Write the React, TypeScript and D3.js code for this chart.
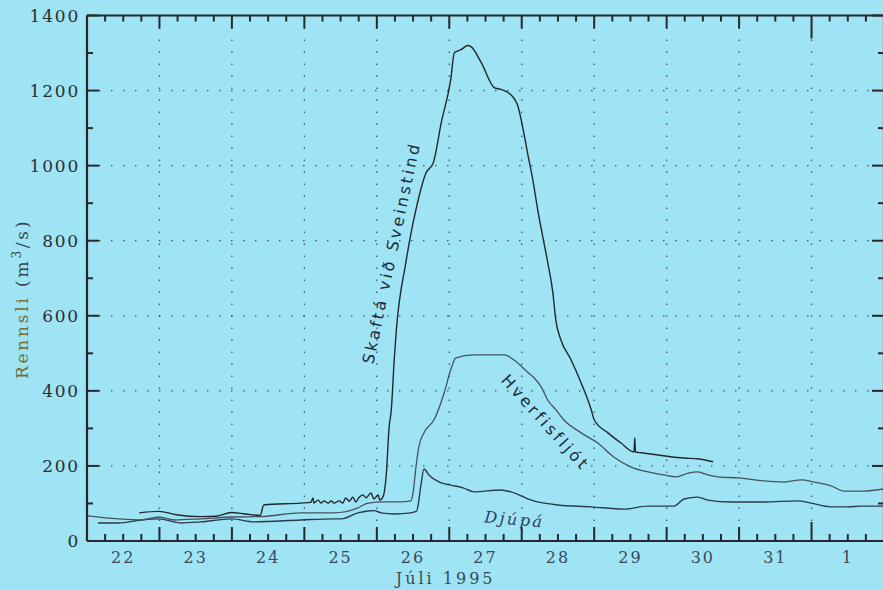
import { useEffect, useRef } from "react";
import * as d3 from "d3";

// time is given as day of July (32 = 1 Aug), discharge in m3/s
const skafta: [number, number][] = [
  [22.72, 75], [22.99, 79], [23.23, 70], [23.57, 65], [23.78, 66], [23.99, 76], [24.19, 72], [24.39, 68],
  [24.44, 96], [24.95, 101], [25.09, 103], [25.12, 115], [25.13, 101], [25.19, 109], [25.23, 101],
  [25.27, 107], [25.33, 101], [25.37, 107], [25.41, 101], [25.48, 107], [25.53, 101], [25.57, 115],
  [25.62, 106], [25.67, 117], [25.71, 104], [25.75, 115], [25.81, 123], [25.85, 115], [25.92, 128],
  [25.96, 112], [26.02, 123], [26.04, 109], [26.09, 120], [26.13, 175], [26.17, 304], [26.2, 349],
  [26.24, 483], [26.27, 563], [26.4, 741], [26.54, 883], [26.68, 981], [26.78, 1008], [26.89, 1115],
  [27.02, 1229], [27.07, 1301], [27.16, 1309], [27.26, 1320], [27.3, 1317], [27.44, 1275], [27.62, 1208],
  [27.71, 1203], [27.85, 1189], [27.95, 1157], [28.02, 1096], [28.09, 1024], [28.16, 955], [28.22, 883],
  [28.29, 811], [28.36, 741], [28.43, 661], [28.47, 589], [28.54, 536], [28.68, 483], [28.82, 421],
  [28.96, 349], [29.0, 323], [29.19, 288], [29.37, 261], [29.55, 237], [29.56, 275], [29.57, 237],
  [29.65, 235], [29.96, 227], [30.24, 221], [30.43, 219], [30.64, 211],
];

const hverfisfljot: [number, number][] = [
  [22.01, 67], [22.43, 59], [22.75, 56], [22.99, 64], [23.2, 56], [23.57, 59], [23.99, 64], [24.4, 65],
  [24.95, 75], [25.41, 75], [25.74, 88], [25.88, 101], [26.1, 104], [26.33, 104], [26.47, 107],
  [26.5, 128], [26.54, 197], [26.58, 251], [26.65, 288], [26.79, 323], [26.93, 395], [27.02, 456],
  [27.09, 488], [27.34, 496], [27.76, 496], [27.89, 483], [28.09, 448], [28.17, 435], [28.27, 410],
  [28.36, 375], [28.47, 350], [28.58, 323], [28.82, 288], [29.05, 261], [29.27, 224], [29.51, 197],
  [29.74, 184], [29.96, 176], [30.13, 171], [30.3, 181], [30.43, 184], [30.57, 176], [30.71, 171],
  [30.99, 168], [31.34, 160], [31.62, 157], [31.86, 163], [32.03, 157], [32.27, 147], [32.45, 133],
  [32.72, 133], [33.0, 139],
];

const djupa: [number, number][] = [
  [22.15, 48], [22.43, 48], [22.75, 56], [22.99, 59], [23.3, 48], [23.57, 51], [23.99, 59], [24.31, 51],
  [24.95, 56], [25.41, 59], [25.51, 59], [25.74, 75], [25.88, 80], [25.96, 81], [26.06, 75], [26.24, 72],
  [26.47, 75], [26.55, 80], [26.61, 150], [26.65, 192], [26.72, 176], [26.89, 155], [27.02, 149],
  [27.2, 141], [27.34, 131], [27.71, 136], [27.85, 131], [28.13, 109], [28.5, 96], [28.96, 91],
  [29.41, 85], [29.74, 93], [30.1, 93], [30.24, 112], [30.43, 117], [30.57, 109], [30.89, 104],
  [31.34, 104], [31.81, 107], [31.99, 101], [32.27, 91], [32.5, 91], [32.68, 93], [33.0, 93],
];

const dayStarts = d3.range(22, 33); // midnight of each labelled day
const dayLabels = ["22", "23", "24", "25", "26", "27", "28", "29", "30", "31", "1"];
const yTicks = [0, 200, 400, 600, 800, 1000, 1200, 1400];
const yGrid = [200, 400, 600, 800, 1000, 1200];
const monthStart = 32;

const W = 883;
const H = 590;
const margin = { top: 15.5, right: -1, bottom: 49, left: 87 };
const BG = "#9fe4f4";
const AXIS = "#26282b";

export default function App() {
  const svgRef = useRef<SVGSVGElement>(null);

  useEffect(() => {
    const svg = d3.select(svgRef.current);
    svg.selectAll("*").remove();

    const x = d3.scaleLinear().domain([22, 33]).range([margin.left, W - margin.right]);
    const y = d3.scaleLinear().domain([0, 1400]).range([H - margin.bottom, margin.top]);
    const [x0, x1] = x.range();
    const [yb, yt] = y.range();

    // dotted grid
    const grid = svg.append("g").attr("stroke", "#44526a").attr("stroke-width", 1.3)
      .attr("stroke-dasharray", "1.5 10.5");
    yGrid.forEach((v) => {
      grid.append("line").attr("x1", x0).attr("x2", x1).attr("y1", y(v)).attr("y2", y(v));
    });
    dayStarts.slice(1).forEach((d) => {
      grid.append("line").attr("x1", x(d)).attr("x2", x(d)).attr("y1", yt).attr("y2", yb);
    });

    // series
    const lineFn = d3.line<[number, number]>()
      .x((d) => x(d[0]))
      .y((d) => y(d[1]))
      .curve(d3.curveMonotoneX);

    const series: { data: [number, number][]; color: string; width: number }[] = [
      { data: djupa, color: "#2b3a4c", width: 1.4 },
      { data: hverfisfljot, color: "#46525c", width: 1.3 },
      { data: skafta, color: "#23272c", width: 1.4 },
    ];
    series.forEach((s) => {
      svg.append("path").datum(s.data).attr("fill", "none").attr("stroke", s.color)
        .attr("stroke-width", s.width).attr("stroke-linejoin", "round").attr("d", lineFn);
    });

    // frame
    const frame = svg.append("g").attr("stroke", AXIS).attr("stroke-width", 2.2);
    frame.append("line").attr("x1", x0).attr("x2", x1).attr("y1", yb).attr("y2", yb);
    frame.append("line").attr("x1", x0).attr("x2", x1).attr("y1", yt).attr("y2", yt);
    frame.append("line").attr("x1", x0).attr("x2", x0).attr("y1", yt).attr("y2", yb);
    frame.append("line").attr("x1", x1).attr("x2", x1).attr("y1", yt).attr("y2", yb);

    // x ticks (every 6 hours), on bottom and top
    const ticks = svg.append("g").attr("stroke", AXIS).attr("stroke-width", 2);
    d3.range(22, 33.001, 0.25).forEach((t) => {
      const major = Math.abs(t - Math.round(t)) < 1e-6;
      const isMonth = major && Math.round(t) === monthStart;
      const lb = isMonth ? 19 : major ? 14 : 7;
      const lt = isMonth ? 23 : major ? 13 : 6;
      ticks.append("line").attr("x1", x(t)).attr("x2", x(t)).attr("y1", yb).attr("y2", yb - lb);
      ticks.append("line").attr("x1", x(t)).attr("x2", x(t)).attr("y1", yt).attr("y2", yt + lt);
    });
    // y ticks every 100
    d3.range(0, 1401, 100).forEach((v) => {
      const len = v % 200 === 0 ? 12 : 6;
      ticks.append("line").attr("x1", x0).attr("x2", x0 + len).attr("y1", y(v)).attr("y2", y(v));
      ticks.append("line").attr("x1", x1).attr("x2", x1 - len).attr("y1", y(v)).attr("y2", y(v));
    });

    // tick labels
    const font = "'DejaVu Serif', 'Liberation Serif', serif";
    svg.append("g").selectAll("text").data(yTicks).join("text")
      .attr("x", x0 - 7).attr("y", (d) => y(d)).attr("dy", "0.36em")
      .attr("text-anchor", "end").attr("font-family", font).attr("font-size", 17)
      .attr("letter-spacing", 1.8).attr("fill", "#2a2e33")
      .text((d) => d);

    svg.append("g").selectAll("text").data(dayStarts).join("text")
      .attr("x", (d) => x(d + 0.5)).attr("y", yb + 22)
      .attr("text-anchor", "middle").attr("font-family", font).attr("font-size", 16)
      .attr("letter-spacing", 2).attr("fill", "#3b4a5a")
      .text((_, i) => dayLabels[i]);

    svg.append("text").attr("x", x(26.95)).attr("y", yb + 43)
      .attr("text-anchor", "middle").attr("font-family", font).attr("font-size", 16)
      .attr("letter-spacing", 3).attr("fill", "#3b4a5a").text("Júli 1995");

    // y axis title
    const yt2 = svg.append("text").attr("transform", `translate(22,${y(645)}) rotate(-90)`)
      .attr("text-anchor", "middle").attr("dy", "0.35em").attr("font-family", font)
      .attr("font-size", 17).attr("letter-spacing", 2.8);
    yt2.append("tspan").attr("fill", "#7a6a2c").text("Rennsli ");
    yt2.append("tspan").attr("fill", "#3a4550").text("(m");
    yt2.append("tspan").attr("fill", "#3a4550").attr("font-size", 12).attr("baseline-shift", "super").text("3");
    yt2.append("tspan").attr("fill", "#3a4550").text("/s)");

    // series labels
    const sans = "'DejaVu Sans', 'Liberation Sans', sans-serif";
    svg.append("text")
      .attr("transform", `translate(${x(26.2)},${y(768)}) rotate(-78)`)
      .attr("text-anchor", "middle").attr("dy", "0.35em").attr("font-family", sans)
      .attr("font-size", 16).attr("letter-spacing", 2.8).attr("fill", "#1f2a36")
      .text("Skaftá við Sveinstind");
    svg.append("text")
      .attr("transform", `translate(${x(28.33)},${y(315)}) rotate(48)`)
      .attr("text-anchor", "middle").attr("dy", "0.35em").attr("font-family", sans)
      .attr("font-size", 16).attr("letter-spacing", 3).attr("fill", "#1f2a36")
      .text("Hverfisfljót");
    svg.append("text")
      .attr("transform", `translate(${x(27.9)},${y(58)}) rotate(5)`)
      .attr("text-anchor", "middle").attr("dy", "0.35em").attr("font-family", font)
      .attr("font-style", "italic").attr("font-size", 16).attr("letter-spacing", 2.5)
      .attr("fill", "#2c3d66").text("Djúpá");
  }, []);

  return (
    <svg
      ref={svgRef}
      width={W}
      height={H}
      style={{ position: "absolute", left: 0, top: 0, background: BG }}
    />
  );
}
